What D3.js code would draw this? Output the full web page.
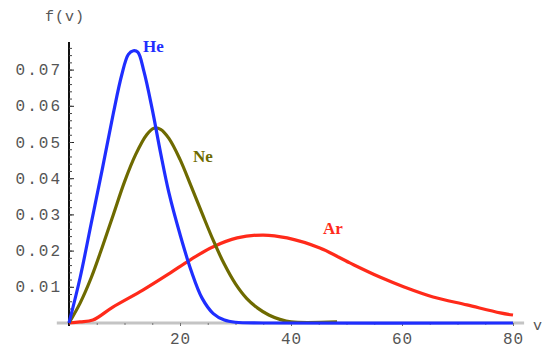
<!DOCTYPE html>
<html lang="en">
<head>
<meta charset="utf-8">
<title>f(v) He Ne Ar</title>
<script src="https://cdnjs.cloudflare.com/ajax/libs/d3/7.8.5/d3.min.js"></script>
<style>
  body { margin: 0; background: #fff; }
  svg { display: block; }
  .tick text, .lbl { font-family: "Liberation Mono", monospace; fill: #555; }
</style>
</head>
<body>
<svg id="chart" width="547" height="351"></svg>
<script>
// values (v, f)
var heV = [0, 2, 4, 6, 8, 9.5, 10.7, 11.6, 12.4, 13.5, 15, 16.5, 18, 20, 22, 24, 26, 28, 30, 35, 80];
var heF = [0, 0.0125, 0.0275, 0.0425, 0.058, 0.0685, 0.0742, 0.0752, 0.0748, 0.0695, 0.059, 0.047, 0.036, 0.0245, 0.0145, 0.0068, 0.0026, 0.0008, 0.0002, 0, 0];

var neV = [0, 2, 4, 6, 8, 10, 12, 14, 15.3, 16.5, 18, 20, 22, 24, 26, 28, 30, 32, 34, 36, 38, 40, 48.3];
var neF = [0, 0.0055, 0.0125, 0.021, 0.03, 0.039, 0.0465, 0.052, 0.0538, 0.0535, 0.051, 0.0452, 0.0378, 0.0302, 0.0228, 0.0162, 0.0108, 0.0068, 0.0041, 0.0022, 0.001, 0.0003, 0.0003];

var arV = [0, 2.0, 4.3, 7.9, 13.3, 18.2, 21.8, 25.9, 30.3, 35.0, 39.3, 45.2, 50.6, 56.0, 60.5, 65.6, 71.7, 77.7, 80];
var arF = [0, 0.0003, 0.0008, 0.0044, 0.0091, 0.0138, 0.0174, 0.021, 0.0235, 0.0243, 0.0235, 0.0207, 0.0166, 0.0127, 0.0099, 0.0072, 0.005, 0.0028, 0.0022];

var yTicks = [0.01, 0.02, 0.03, 0.04, 0.05, 0.06, 0.07];
var xTicks = [20, 40, 60, 80];

var svg = d3.select("#chart");
var x = d3.scaleLinear().domain([0, 80]).range([69, 513]);
var y = d3.scaleLinear().domain([0, 0.07]).range([323, 69.6]);

// x axis (grey)
svg.append("line")
    .attr("x1", x(-2.2)).attr("x2", x(82))
    .attr("y1", y(0)).attr("y2", y(0))
    .style("stroke", "#c4c4c4").style("stroke-width", 3);

var xAxis = svg.append("g")
    .attr("transform", "translate(0," + y(0) + ")")
    .call(d3.axisBottom(x).tickValues(xTicks).tickSize(3).tickPadding(7));
xAxis.select(".domain").remove();
xAxis.selectAll("line").style("stroke", "#666");
xAxis.selectAll("text").style("font-size", "16px").style("letter-spacing", "1px");

var xMinor = svg.append("g")
    .attr("transform", "translate(0," + y(0) + ")")
    .call(d3.axisBottom(x).tickValues(d3.range(5, 81, 5)).tickSize(2).tickFormat(""));
xMinor.select(".domain").remove();
xMinor.selectAll("line").style("stroke", "#777");

// y axis
svg.append("line")
    .attr("x1", x(0)).attr("x2", x(0))
    .attr("y1", y(0) + 3).attr("y2", y(0.0776))
    .style("stroke", "#111").style("stroke-width", 2);

var yAxis = svg.append("g")
    .attr("transform", "translate(" + x(0) + ",0)")
    .call(d3.axisLeft(y).tickValues(yTicks).tickSize(-5).tickPadding(7).tickFormat(d3.format(".2f")));
yAxis.select(".domain").remove();
yAxis.selectAll("line").style("stroke", "#222");
yAxis.selectAll("text").style("font-size", "16px").style("letter-spacing", "2px");

var yMinor = svg.append("g")
    .attr("transform", "translate(" + x(0) + ",0)")
    .call(d3.axisLeft(y).tickValues(d3.range(0.002, 0.0775, 0.002)).tickSize(-3).tickFormat(""));
yMinor.select(".domain").remove();
yMinor.selectAll("line").style("stroke", "#444");

svg.append("text").attr("class", "lbl")
    .attr("x", 45).attr("y", 21)
    .style("font-size", "15px")
    .style("letter-spacing", "1px")
    .text("f(v)");
svg.append("text").attr("class", "lbl")
    .attr("x", 533).attr("y", 330)
    .style("font-size", "15px")
    .text("v");

// curves
var line = d3.line()
    .x(function(d) { return x(d[0]); })
    .y(function(d) { return y(d[1]); })
    .curve(d3.curveCatmullRom.alpha(0.5));

var series = [
  { v: arV, f: arF, color: "#ff2a1a", name: "Ar", lx: 323, ly: 234 },
  { v: neV, f: neF, color: "#6e6a00", name: "Ne", lx: 193, ly: 162 },
  { v: heV, f: heF, color: "#1f2eff", name: "He", lx: 143, ly: 52 }
];

series.forEach(function(s) {
  var pts = s.v.map(function(v, i) { return [v, s.f[i]]; });
  svg.append("path")
      .datum(pts)
      .attr("d", line)
      .style("fill", "none")
      .style("stroke", s.color)
      .style("stroke-width", 3.2)
      .style("stroke-linejoin", "round");
  svg.append("text")
      .attr("x", s.lx).attr("y", s.ly)
      .style("font-family", "Liberation Serif, serif")
      .style("font-size", "17px")
      .style("font-weight", "bold")
      .style("fill", s.color)
      .text(s.name);
});
</script>
</body>
</html>
